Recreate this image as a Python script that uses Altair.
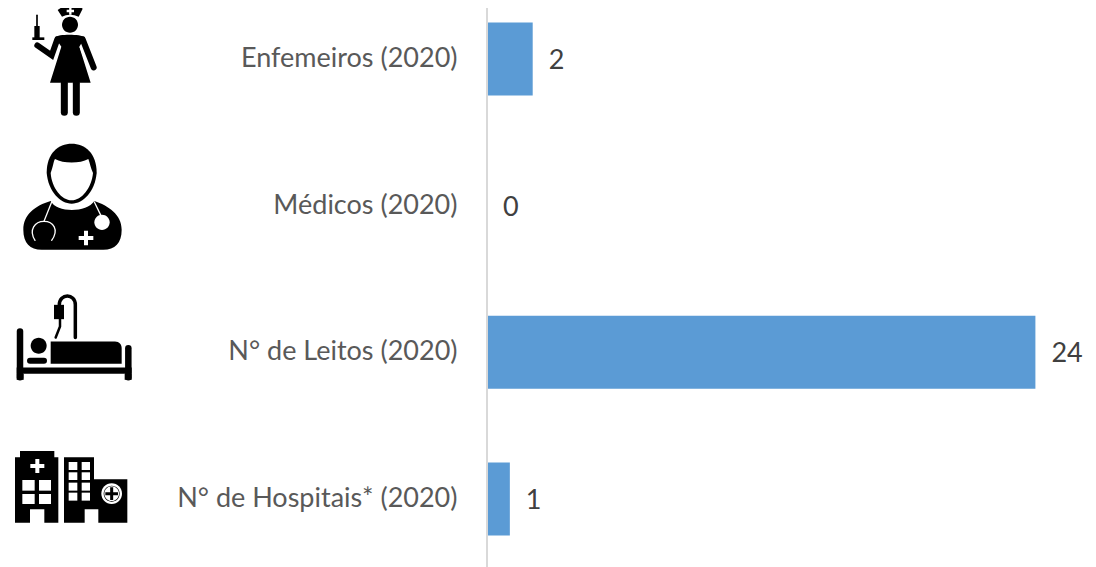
import altair as alt
import pandas as pd

categories = ["Enfemeiros (2020)", "Médicos (2020)", "N° de Leitos (2020)", "N° de Hospitais* (2020)"]
values = [2, 0, 24, 1]

FONT = "Lato"
BAR = "#5B9BD5"
GRID = "#D9D9D9"
LABEL = "#595959"
VALUE = "#404040"
ORIGIN_X = 487
ICON_X = 70  # page x of each icon's reference point
ROW_Y = [59, 206, 352.5, 499]

df = pd.DataFrame({"cat": categories, "v": values})
ysc = alt.Scale(domain=categories, range=[-22.3, 564.3], paddingInner=0.5, paddingOuter=0.25)
xsc = alt.Scale(domain=[0, 601 / 22.85], nice=False, zero=True)
yaxis = alt.Axis(domain=False, ticks=False, labelFont=FONT, labelFontSize=27, labelColor=LABEL,
                 labelPadding=30, labelLimit=400, title=None, grid=False)
yenc = alt.Y("cat:N", scale=ysc, sort=categories, axis=yaxis)


def pt(x, y, row, oy):
    return f"{x / 3 - ICON_X:.2f},{y / 3 + oy - ROW_Y[row]:.2f}"


def poly(pts, row, oy=0):
    return "M" + "L".join(pt(x, y, row, oy) for x, y in pts) + "Z"


def curve(cmds, row, oy=0, close=True):
    s = ""
    for c in cmds:
        op, *nums = c
        s += op + " ".join(pt(nums[i], nums[i + 1], row, oy) for i in range(0, len(nums), 2))
    return s + ("Z" if close else "")


def circle(cx, cy, r, row, oy=0):
    k = 0.5523 * r
    return curve([("M", cx - r, cy),
                  ("C", cx - r, cy - k, cx - k, cy - r, cx, cy - r),
                  ("C", cx + k, cy - r, cx + r, cy - k, cx + r, cy),
                  ("C", cx + r, cy + k, cx + k, cy + r, cx, cy + r),
                  ("C", cx - k, cy + r, cx - r, cy + k, cx - r, cy)], row, oy)


def rect(x0, y0, x1, y1, row, oy=0):
    return poly([(x0, y0), (x1, y0), (x1, y1), (x0, y1)], row, oy)


def plus(cx, cy, arm, w, row, oy=0):
    return rect(cx - arm, cy - w, cx + arm, cy + w, row, oy) + rect(cx - w, cy - arm, cx + w, cy + arm, row, oy)


def line(pts, row, oy=0):
    return "M" + "L".join(pt(x, y, row, oy) for x, y in pts)


# icon layers: (row, path, colour, stroke width in px or 0 for a filled shape)
layers = []
# nurse
r = 0
layers += [
    (r, curve([("M", 173, 30), ("C", 195, 12, 228, 12, 248, 26), ("L", 236, 50),
               ("C", 220, 42, 200, 42, 186, 50)], r), "black", 0),
    (r, plus(211, 33, 11, 3.5, r), "white", 0),
    (r, circle(210, 74, 24, r), "black", 0),
    (r, line([(111, 46), (111, 80)], r), "black", 1.7),
    (r, rect(103, 78, 119, 114, r), "black", 0),
    (r, rect(97, 112, 133, 120, r), "black", 0),
    (r, line([(112, 136), (155, 166), (172, 118)], r), "black", 6),
    (r, line([(248, 118), (281, 202)], r), "black", 6),
    (r, curve([("M", 165, 112), ("C", 175, 102, 240, 102, 255, 112), ("L", 238, 140),
               ("L", 272, 248), ("L", 150, 248), ("L", 184, 140)], r), "black", 0),
    (r, line([(180, 142), (160, 190)], r), "white", 1.3),
    (r, line([(241, 142), (262, 198)], r), "white", 1.3),
    (r, line([(193, 250), (193, 337)], r), "black", 7),
    (r, line([(229, 250), (229, 337)], r), "black", 7),
]
# doctor
r = 1
layers += [
    (r, curve([("M", 70, 690), ("C", 70, 645, 105, 618, 152, 604), ("C", 170, 640, 260, 640, 283, 604),
               ("C", 325, 618, 365, 645, 365, 690), ("C", 365, 730, 345, 750, 310, 750),
               ("L", 125, 750), ("C", 90, 750, 70, 730, 70, 690)], r), "black", 0),
    (r, curve([("M", 140, 520), ("C", 140, 460, 175, 432, 215, 432), ("C", 255, 432, 290, 460, 290, 520),
               ("C", 285, 575, 250, 612, 215, 612), ("C", 180, 612, 145, 575, 140, 520)], r), "black", 0),
    (r, curve([("M", 152, 520), ("C", 160, 500, 160, 485, 165, 478), ("C", 190, 492, 240, 492, 265, 478),
               ("C", 270, 490, 272, 505, 279, 520), ("C", 275, 565, 245, 602, 215, 602),
               ("C", 185, 602, 155, 565, 152, 520)], r), "white", 0),
    (r, line([(155, 607), (132, 665)], r), "white", 1.3),
    (r, curve([("M", 105, 722), ("C", 85, 690, 105, 665, 132, 665), ("C", 160, 665, 178, 690, 155, 722)],
              r, close=False), "white", 1.3),
    (r, line([(283, 607), (304, 650)], r), "white", 1.3),
    (r, circle(306, 668, 23, r), "white", 0),
    (r, plus(258, 715, 22, 6, r), "white", 0),
]
# bed with drip
r, oy = 2, 280
layers += [
    (r, line([(60, 155), (60, 292)], r, oy), "black", 6.5),
    (r, line([(385, 205), (385, 292)], r, oy), "black", 6.5),
    (r, rect(50, 263, 395, 282, r, oy), "black", 0),
    (r, rect(50, 282, 71, 300, r, oy), "black", 0),
    (r, rect(374, 282, 395, 300, r, oy), "black", 0),
    (r, circle(116, 198, 24, r, oy), "black", 0),
    (r, line([(90, 243), (132, 243)], r, oy), "black", 6),
    (r, curve([("M", 152, 185), ("L", 345, 185), ("C", 358, 185, 365, 195, 365, 205),
               ("L", 365, 252), ("L", 152, 252)], r, oy), "black", 0),
    (r, curve([("M", 226, 173), ("L", 226, 75), ("C", 226, 40, 178, 40, 178, 75)], r, oy, close=False), "black", 3.5),
    (r, rect(162, 75, 192, 118, r, oy), "black", 0),
    (r, line([(180, 118), (180, 140), (167, 173)], r, oy), "black", 2.5),
]
# hospitals
r = 3
layers += [
    (r, poly([(45, 532), (60, 532), (60, 513), (163, 513), (163, 532), (175, 532), (175, 728), (133, 728),
              (133, 688), (90, 688), (90, 728), (45, 728)], r, oy), "black", 0),
    (r, plus(112, 558, 21, 6, r, oy), "white", 0),
    (r, poly([(192, 532), (282, 532), (282, 598), (382, 598), (382, 728), (295, 728), (295, 688), (254, 688),
              (254, 728), (192, 728)], r, oy), "black", 0),
    (r, circle(335, 641, 31, r, oy), "white", 0),
    (r, circle(335, 641, 24, r, oy), "black", 0),
    (r, circle(335, 641, 22, r, oy), "white", 0),
    (r, plus(335, 641, 19, 4.5, r, oy), "black", 0),
]
for x0, x1 in [(67, 104), (117, 153)]:
    for y0, y1 in [(600, 632), (642, 672)]:
        layers.append((3, rect(x0, y0, x1, y1, 3, oy), "white", 0))
for x0, x1 in [(206, 232), (245, 270)]:
    for y0, y1 in [(546, 570), (577, 600), (608, 632), (638, 662)]:
        layers.append((3, rect(x0, y0, x1, y1, 3, oy), "white", 0))

icon_marks = []
for row, path, colour, sw in layers:
    src = pd.DataFrame({"cat": [categories[row]]})
    if sw:
        mark = alt.Chart(src).mark_point(shape=path, size=4, filled=False, stroke=colour, strokeWidth=sw,
                                         strokeCap="round", opacity=1, clip=False)
    else:
        mark = alt.Chart(src).mark_point(shape=path, size=4, filled=True, fill=colour, strokeWidth=0, opacity=1, clip=False)
    icon_marks.append(mark.encode(x=alt.value(ICON_X - ORIGIN_X), y=yenc))

bars = alt.Chart(df).mark_bar(color=BAR, size=73).encode(
    x=alt.X("v:Q", scale=xsc, axis=None),
    y=yenc,
)
rule = alt.Chart(pd.DataFrame({"v": [0]})).mark_rule(color=GRID, strokeWidth=2).encode(
    x=alt.X("v:Q", scale=xsc, axis=None), y=alt.value(0), y2=alt.value(559))
text = alt.Chart(df).mark_text(font=FONT, fontSize=27, color=VALUE, align="left", dx=16, dy=2, baseline="middle").encode(
    x=alt.X("v:Q", scale=xsc, axis=None),
    y=yenc,
    text="v:Q",
)

chart = alt.layer(bars, rule, text, *icon_marks).properties(
    width=601, height=559,
    autosize=alt.AutoSizeParams(type="none"),
    padding={"left": ORIGIN_X - 8, "top": 0, "right": 0, "bottom": 0},
).configure_view(stroke=None)

chart.save("out.html", embed_options={"renderer": "svg", "actions": False})
